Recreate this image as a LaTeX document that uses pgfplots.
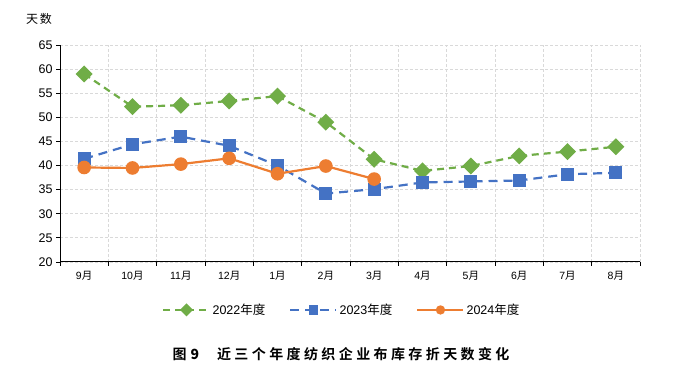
\documentclass[border=0pt]{standalone}
\usepackage{pgfplots}
\pgfplotsset{compat=1.18}
\usepackage{fontspec}
\setmainfont{Liberation Sans}
\newfontfamily\cjk{Noto Sans CJK SC}
\newfontfamily\cjkb{Noto Sans CJK SC Bold}
\definecolor{cgreen}{HTML}{70AD47}
\definecolor{cblue}{HTML}{4472C4}
\definecolor{corange}{HTML}{ED7D31}
\definecolor{cgrid}{HTML}{D9D9D9}
\begin{document}
\begin{tikzpicture}
\useasboundingbox (0pt,0pt) rectangle (685pt,377pt);
\node[font=\fontsize{12}{14}\selectfont\cjk] at (39pt,358pt) {天\,数};
\begin{axis}[
  at={(60pt,115pt)}, anchor=south west,
  scale only axis, width=580pt, height=217pt,
  xmin=-0.5, xmax=11.5, ymin=20, ymax=65,
  ytick={20,25,...,65},
  xtick={0,...,11},
  xticklabels={9\cjk{月},10\cjk{月},11\cjk{月},12\cjk{月},1\cjk{月},2\cjk{月},3\cjk{月},4\cjk{月},5\cjk{月},6\cjk{月},7\cjk{月},8\cjk{月}},
  minor xtick={-0.5,0.5,...,11.5},
  major x tick style={draw=none},
  xminorgrids, ymajorgrids,
  grid style={cgrid, line width=0.9pt, dash pattern=on 3pt off 2pt},
  minor grid style={cgrid, line width=0.9pt, dash pattern=on 3pt off 2pt},
  axis x line=bottom, axis y line=left,
  x axis line style={-, line width=1pt, black},
  y axis line style={-, line width=1pt, black},
  tick align=outside,
  major tick length=4pt, minor tick length=4pt,
  tick style={black, line width=0.9pt},
  minor tick style={black, line width=0.9pt},
  /pgf/number format/assume math mode=true,
  yticklabel style={font=\fontsize{12.5}{14}\selectfont},
  xticklabel style={font=\fontsize{10.5}{12}\selectfont, yshift=-2pt},
  legend style={at={(0.486,-0.221)}, anchor=center, draw=none, fill=none,
    legend columns=3, font=\fontsize{12.5}{14}\selectfont,
    /tikz/every even column/.append style={column sep=22pt}},
  legend image code/.code={\draw[#1, mark repeat=2, mark phase=2, mark size=3.5pt] plot coordinates {(0pt,0pt) (23pt,0pt) (46pt,0pt)};},
]
\addplot[cgreen, line width=2.2pt, dash pattern=on 7pt off 5pt, mark=square*, mark size=4.9pt, mark options={rotate=45, solid, fill=cgreen, draw=cgreen}]
  coordinates {(0,59.0) (1,52.2) (2,52.5) (3,53.4) (4,54.4) (5,49.0) (6,41.3) (7,38.9) (8,39.9) (9,42.0) (10,42.9) (11,43.9)};
\addlegendentry{2022\cjk{年度}}
\addplot[cblue, line width=2.2pt, dash pattern=on 9pt off 6pt, mark=square*, mark size=5.3pt, mark options={solid, fill=cblue, draw=cblue}]
  coordinates {(0,41.4) (1,44.4) (2,46.0) (3,44.1) (4,40.0) (5,34.2) (6,35.1) (7,36.5) (8,36.7) (9,36.9) (10,38.2) (11,38.5)};
\addlegendentry{2023\cjk{年度}}
\addplot[corange, line width=2.2pt, mark=*, mark size=5.7pt, mark options={solid, fill=corange, draw=corange}]
  coordinates {(0,39.6) (1,39.5) (2,40.3) (3,41.5) (4,38.3) (5,39.9) (6,37.2)};
\addlegendentry{2024\cjk{年度}}
\end{axis}
\node[font=\fontsize{14}{16}\selectfont\cjkb] at (341pt,23pt) {图\hspace{4pt}\textbf{9}\hspace{18pt}近\hspace{3.4pt}三\hspace{3.4pt}个\hspace{3.4pt}年\hspace{3.4pt}度\hspace{3.4pt}纺\hspace{3.4pt}织\hspace{3.4pt}企\hspace{3.4pt}业\hspace{3.4pt}布\hspace{3.4pt}库\hspace{3.4pt}存\hspace{3.4pt}折\hspace{3.4pt}天\hspace{3.4pt}数\hspace{3.4pt}变\hspace{3.4pt}化};
\end{tikzpicture}
\end{document}
